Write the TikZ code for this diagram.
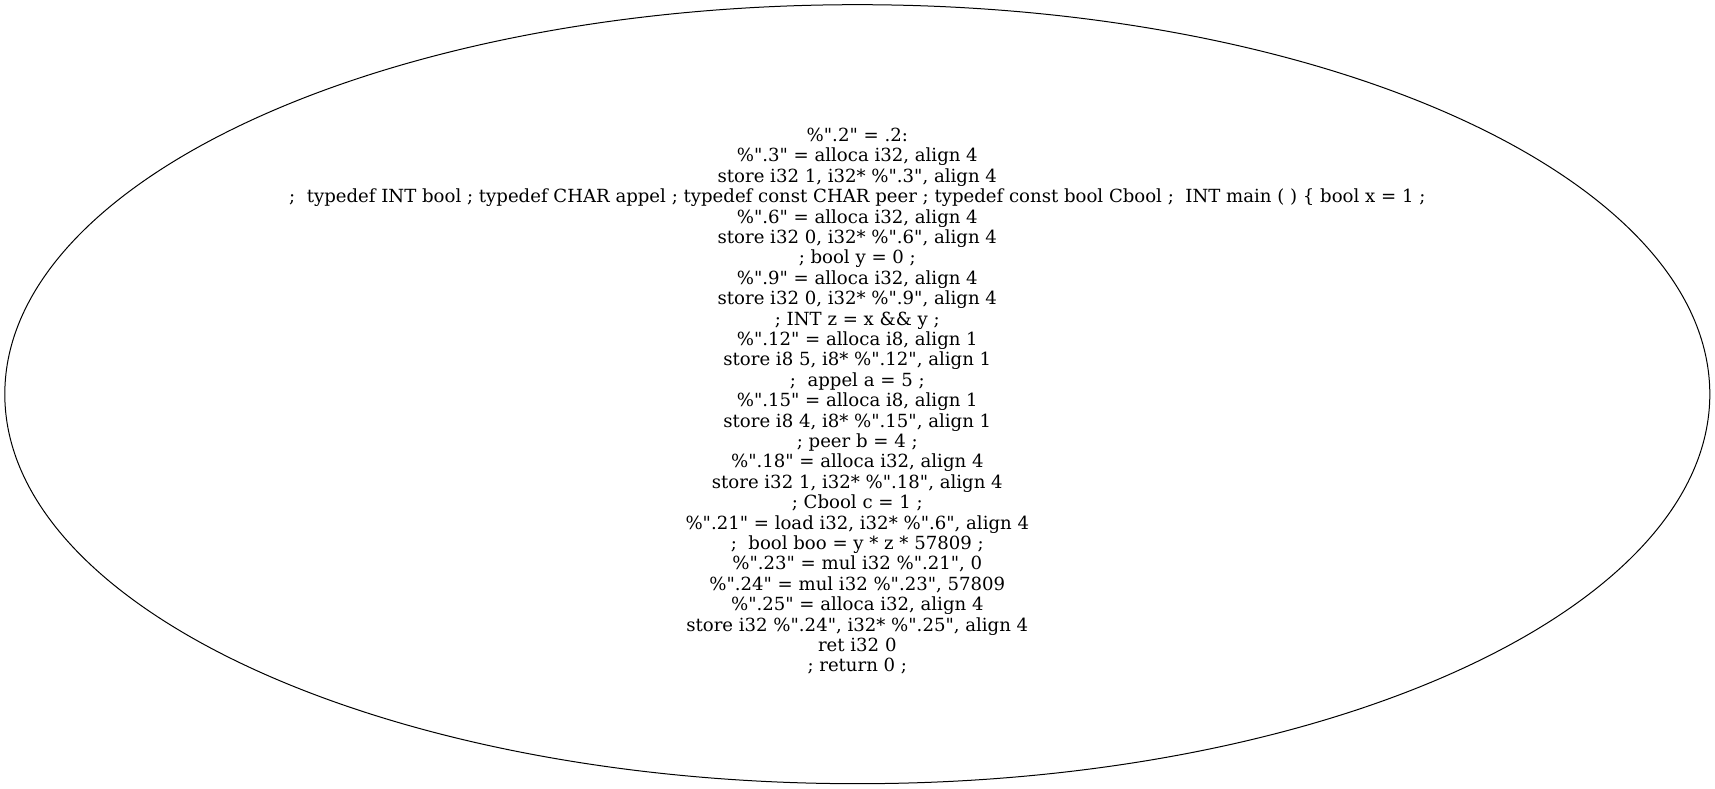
\documentclass[tikz,border=0pt]{standalone}
\usepackage{fontspec}
\setmainfont{DejaVu Serif}[Ligatures=TeXOff]
\usepackage{tikz}
\usetikzlibrary{shapes.geometric}

\begin{document}
\begin{tikzpicture}[x=1pt,y=1pt,line width=1pt]
        \useasboundingbox (0,0) rectangle (1715,789);
        \node[draw, ellipse, minimum width=1705pt, minimum height=779pt] (blk) at (857.3,394.8) {};
        \node[align=center, inner sep=0pt, font=\fontsize{18.1}{20.4}\selectfont] (code) at ([yshift=-7pt]blk.center) {%
\%".2" = .2:\\
\%".3" = alloca i32, align 4\\
store i32 1, i32* \%".3", align 4\\
;\ \ typedef INT bool ; typedef CHAR appel ; typedef const CHAR peer ; typedef const bool Cbool ;\ \ INT main ( ) \{ bool x = 1 ;\\
\%".6" = alloca i32, align 4\\
store i32 0, i32* \%".6", align 4\\
; bool y = 0 ;\\
\%".9" = alloca i32, align 4\\
store i32 0, i32* \%".9", align 4\\
; INT z = x \&\& y ;\\
\%".12" = alloca i8, align 1\\
store i8 5, i8* \%".12", align 1\\
;\ \ appel a = 5 ;\\
\%".15" = alloca i8, align 1\\
store i8 4, i8* \%".15", align 1\\
; peer b = 4 ;\\
\%".18" = alloca i32, align 4\\
store i32 1, i32* \%".18", align 4\\
; Cbool c = 1 ;\\
\%".21" = load i32, i32* \%".6", align 4\\
;\ \ bool boo = y * z * 57809 ;\\
\%".23" = mul i32 \%".21", 0\\
\%".24" = mul i32 \%".23", 57809\\
\%".25" = alloca i32, align 4\\
store i32 \%".24", i32* \%".25", align 4\\
ret i32 0\\
; return 0 ;};
    \end{tikzpicture}
\end{document}
